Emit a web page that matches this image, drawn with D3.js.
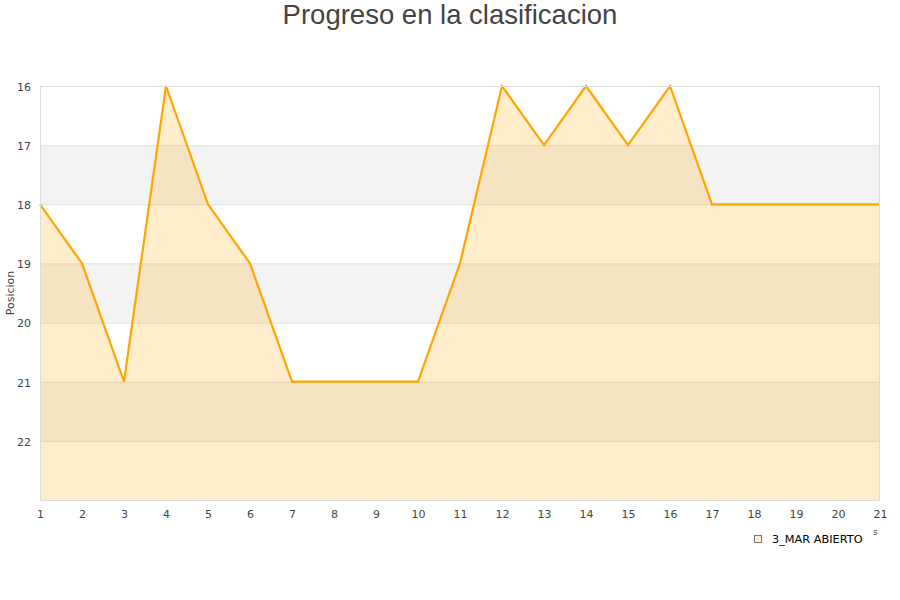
<!DOCTYPE html>
<html><head><meta charset="utf-8">
<script src="https://cdn.jsdelivr.net/npm/d3@7"></script>
<style>body{margin:0;background:#fff}svg{display:block}</style>
</head><body>
<svg id="c" width="900" height="600"></svg>
<script>
const title = "Progreso en la clasificacion";
const seriesName = "3_MAR ABIERTO";
const yLabel = "Posicion";
const jornadas = [1,2,3,4,5,6,7,8,9,10,11,12,13,14,15,16,17,18,19,20,21];
const posiciones = [18,19,21,16,18,19,21,21,21,21,19,16,17,16,17,16,18,18,18,18,18];
const yTicks = [16,17,18,19,20,21,22];
const bands = [[17,18],[19,20],[21,22]];

const svg = d3.select("#c");
const L=40,R=880,T=86,B=500;
const x = d3.scaleLinear().domain([1,21]).range([L,R]);
const y = d3.scaleLinear().domain([16,23]).range([T,B]);

svg.append("text").attr("x",450).attr("y",24).attr("text-anchor","middle")
  .attr("font-family","Liberation Sans, Arial, sans-serif").attr("font-size",27.5).attr("fill","#444").text(title);

const g = svg.append("g");
g.selectAll("rect.band").data(bands).enter().append("rect")
  .attr("x",L).attr("width",R-L).attr("y",d=>y(d[0])).attr("height",d=>y(d[1])-y(d[0])).attr("fill","#f3f3f3");
g.selectAll("line.grid").data(yTicks.concat([23])).enter().append("line")
  .attr("x1",L).attr("x2",R).attr("y1",d=>y(d)+0.5).attr("y2",d=>y(d)+0.5).attr("stroke","#e0e0e0");

const area = d3.area().x((d,i)=>x(jornadas[i])).y0(y(23)).y1(d=>y(d));
g.append("path").datum(posiciones).attr("d",area).attr("fill","rgba(255,165,0,0.2)");
const line = d3.line().x((d,i)=>x(jornadas[i])).y(d=>y(d));
g.append("path").datum(posiciones).attr("d",line).attr("fill","none").attr("stroke","#ffa500").attr("stroke-width",2.2);

g.append("rect").attr("x",L+0.5).attr("y",T+0.5).attr("width",R-L-1).attr("height",B-T).attr("fill","none").attr("stroke","#dcdcdc");

const font="DejaVu Sans, sans-serif";
const ya = svg.append("g").attr("transform",`translate(${L},0)`).call(d3.axisLeft(y).tickValues(yTicks).tickFormat(d3.format("d")).tickSize(0).tickPadding(9));
ya.select(".domain").remove();
ya.selectAll("text").attr("font-family",font).attr("font-size",11).attr("fill","#444").attr("dy","0.4em");
const xa = svg.append("g").attr("transform",`translate(0,${B})`).call(d3.axisBottom(x).tickValues(jornadas).tickFormat(d3.format("d")).tickSize(0).tickPadding(10));
xa.select(".domain").remove();
xa.selectAll("text").attr("font-family",font).attr("font-size",11).attr("fill","#444");

svg.append("text").attr("transform","translate(14,293) rotate(-90)").attr("text-anchor","middle")
  .attr("font-family",font).attr("font-size",11).attr("fill","#444").text(yLabel);

svg.append("text").attr("x",873).attr("y",535).attr("font-family",font).attr("font-size",9).attr("fill","#444").text("s");

svg.append("rect").attr("x",754.5).attr("y",535.5).attr("width",7).attr("height",7).attr("fill","#ffedcc").attr("stroke","#777");
svg.append("text").attr("x",772).attr("y",543).attr("font-family",font).attr("font-size",11.3).attr("fill","#000").text(seriesName);
</script>
</body></html>
